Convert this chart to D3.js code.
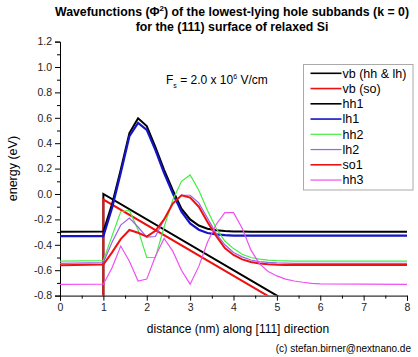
<!DOCTYPE html>
<html><head><meta charset="utf-8">
<script src="https://cdn.jsdelivr.net/npm/d3@7/dist/d3.min.js"></script>
<style>
html,body{margin:0;padding:0;background:#fff;}
svg{display:block;font-family:"Liberation Sans",Arial,sans-serif;}
</style></head>
<body>
<svg id="chart" width="418" height="357"></svg>
<script>
// ---- data ----
const xGrid = [0, 1.0, 1.2, 1.4, 1.6, 1.8, 2.0, 2.2, 2.4, 2.6, 2.8, 3.0, 3.2, 3.4, 3.6, 3.8, 4.0, 4.2, 4.4, 4.6, 4.8, 5.0, 5.2, 5.4, 5.6, 5.8, 6.0, 8.0];
const hh1 = [-0.297, -0.295, -0.08, 0.19, 0.48, 0.596, 0.535, 0.37, 0.19, 0.03, -0.115, -0.20, -0.248, -0.274, -0.286, -0.292, -0.295, -0.296, -0.297, -0.297, -0.297, -0.297, -0.297, -0.297, -0.297, -0.297, -0.297, -0.297];
const lh1 = [-0.331, -0.331, -0.11, 0.165, 0.455, 0.56, 0.505, 0.345, 0.165, 0.005, -0.14, -0.232, -0.281, -0.307, -0.318, -0.324, -0.327, -0.328, -0.328, -0.328, -0.328, -0.328, -0.328, -0.328, -0.328, -0.328, -0.328, -0.328];
const hh2 = [-0.528, -0.525, -0.33, -0.14, -0.13, -0.283, -0.50, -0.50, -0.26, -0.047, 0.10, 0.15, 0.03, -0.13, -0.27, -0.37, -0.43, -0.475, -0.50, -0.513, -0.521, -0.525, -0.527, -0.528, -0.528, -0.528, -0.528, -0.528];
const lh2 = [-0.546, -0.54, -0.38, -0.245, -0.19, -0.26, -0.34, -0.335, -0.20, -0.075, -0.01, -0.01, -0.07, -0.19, -0.31, -0.40, -0.46, -0.495, -0.52, -0.532, -0.539, -0.543, -0.545, -0.546, -0.546, -0.546, -0.546, -0.546];
const so1 = [-0.562, -0.555, -0.46, -0.355, -0.283, -0.305, -0.335, -0.29, -0.20, -0.075, -0.01, -0.028, -0.10, -0.22, -0.33, -0.425, -0.48, -0.515, -0.535, -0.547, -0.553, -0.557, -0.559, -0.56, -0.56, -0.56, -0.56, -0.56];
const hh3 = [-0.712, -0.71, -0.58, -0.41, -0.53, -0.685, -0.67, -0.49, -0.35, -0.45, -0.60, -0.71, -0.57, -0.38, -0.24, -0.147, -0.147, -0.27, -0.44, -0.55, -0.61, -0.645, -0.67, -0.685, -0.695, -0.703, -0.708, -0.712];
const vbX = [1, 1, 6];
const vbHH = [-1.5, 0.0, -1.0];
const vbSO = [-1.5, -0.044, -1.044];

const seriesNames = ["vb (hh & lh)", "vb (so)", "hh1", "lh1", "hh2", "lh2", "so1", "hh3"];
const seriesColors = ["#000000", "#ee1111", "#000000", "#1414c8", "#44ee44", "#9a62f0", "#ee1111", "#f050f0"];
const seriesWidths = [2, 2, 2, 2.2, 1.2, 1.2, 2, 1.2];

const xTicks = [0, 1, 2, 3, 4, 5, 6, 7, 8];
const xTickLabels = ["0", "1", "2", "3", "4", "5", "6", "7", "8"];
const xMinorTicks = [0.5, 1.5, 2.5, 3.5, 4.5, 5.5, 6.5, 7.5];
const yTicks = [-0.8, -0.6, -0.4, -0.2, 0.0, 0.2, 0.4, 0.6, 0.8, 1.0, 1.2];
const yTickLabels = ["-0.8", "-0.6", "-0.4", "-0.2", "0.0", "0.2", "0.4", "0.6", "0.8", "1.0", "1.2"];
const yMinorTicks = [-0.7, -0.5, -0.3, -0.1, 0.1, 0.3, 0.5, 0.7, 0.9, 1.1];

// ---- layout ----
const svg = d3.select("#chart");
const L = 60, R = 407, T = 41.6, B = 295.6;
const x = d3.scaleLinear().domain([0, 8]).range([L, R]);
const y = d3.scaleLinear().domain([-0.8, 1.2]).range([B, T]);

svg.append("defs").append("clipPath").attr("id", "clip")
  .append("rect").attr("x", L).attr("y", T).attr("width", R - L).attr("height", B - T);

// title
const title = svg.append("text").attr("x", 232).attr("y", 16).attr("text-anchor", "middle")
  .attr("font-weight", "bold").attr("font-size", 12.3);
title.append("tspan").text("Wavefunctions (\u03A6");
title.append("tspan").attr("font-size", 8).attr("dy", -5).text("2");
title.append("tspan").attr("dy", 5).text(") of the lowest-lying hole subbands (k = 0)");
svg.append("text").attr("x", 232).attr("y", 31).attr("text-anchor", "middle")
  .attr("font-weight", "bold").attr("font-size", 12.3).text("for the (111) surface of relaxed Si");

// axes
const xAxis = d3.axisBottom(x).tickValues(xTicks).tickFormat((d, i) => xTickLabels[i]).tickSizeOuter(0).tickSize(5);
const gx = svg.append("g").attr("transform", `translate(0,${B})`).call(xAxis);
gx.selectAll("text").attr("font-size", 10.5).attr("fill", "#222").attr("font-family", "Liberation Sans, Arial, sans-serif").attr("dy", "0.71em").attr("y", 8);
svg.append("g").attr("transform", `translate(0,${B})`)
  .call(d3.axisBottom(x).tickValues(xMinorTicks).tickFormat("").tickSize(3).tickSizeOuter(0))
  .select(".domain").remove();

const yAxis = d3.axisLeft(y).tickValues(yTicks).tickFormat((d, i) => yTickLabels[i]).tickSizeOuter(0).tickSize(5);
const gy = svg.append("g").attr("transform", `translate(${L},0)`).call(yAxis);
gy.selectAll("text").attr("font-size", 10.5).attr("fill", "#222").attr("font-family", "Liberation Sans, Arial, sans-serif").attr("x", -8);
svg.append("g").attr("transform", `translate(${L},0)`)
  .call(d3.axisLeft(y).tickValues(yMinorTicks).tickFormat("").tickSize(3).tickSizeOuter(0))
  .select(".domain").remove();
svg.selectAll(".domain, .tick line").attr("stroke", "#000").attr("stroke-width", 1);

// axis titles
svg.append("text").attr("transform", `translate(17,${(T + B) / 2}) rotate(-90)`).attr("text-anchor", "middle")
  .attr("font-size", 12.5).text("energy (eV)");
svg.append("text").attr("x", 238).attr("y", 333).attr("text-anchor", "middle")
  .attr("font-size", 12).text("distance (nm) along [111] direction");
svg.append("text").attr("x", 411).attr("y", 352).attr("text-anchor", "end")
  .attr("font-size", 10).text("(c) stefan.birner@nextnano.de");

// field annotation
const fs = svg.append("text").attr("x", 166).attr("y", 84).attr("font-size", 12);
fs.append("tspan").text("F");
fs.append("tspan").attr("font-size", 7).attr("dy", 4).text("s");
fs.append("tspan").attr("dy", -4).text(" = 2.0 x 10");
fs.append("tspan").attr("font-size", 7).attr("dy", -5).text("6");
fs.append("tspan").attr("dy", 5).text(" V/cm");

// series
const line = d3.line().x(d => x(d[0])).y(d => y(d[1]));
const plot = svg.append("g").attr("clip-path", "url(#clip)");
const seriesData = [
  vbX.map((v, i) => [v, vbHH[i]]),
  vbX.map((v, i) => [v, vbSO[i]]),
  xGrid.map((v, i) => [v, hh1[i]]),
  xGrid.map((v, i) => [v, lh1[i]]),
  xGrid.map((v, i) => [v, hh2[i]]),
  xGrid.map((v, i) => [v, lh2[i]]),
  xGrid.map((v, i) => [v, so1[i]]),
  xGrid.map((v, i) => [v, hh3[i]])
];
seriesData.forEach((d, i) => {
  plot.append("path").attr("d", line(d)).attr("fill", "none")
    .attr("stroke", seriesColors[i]).attr("stroke-width", seriesWidths[i])
    .attr("stroke-linejoin", "miter");
});

// legend
const lg = svg.append("g");
lg.append("rect").attr("x", 303.5).attr("y", 64.5).attr("width", 109.5).attr("height", 125.5)
  .attr("fill", "#fff").attr("stroke", "#aaa").attr("stroke-width", 1);
seriesNames.forEach((n, i) => {
  const cy = 73.3 + i * 15.25;
  lg.append("line").attr("x1", 310.5).attr("x2", 341.5).attr("y1", cy).attr("y2", cy)
    .attr("stroke", seriesColors[i]).attr("stroke-width", Math.min(seriesWidths[i], 1.6));
  lg.append("text").attr("x", 342.5).attr("y", cy + 4.3).attr("font-size", 12.5).text(n);
});
</script>
</body></html>
